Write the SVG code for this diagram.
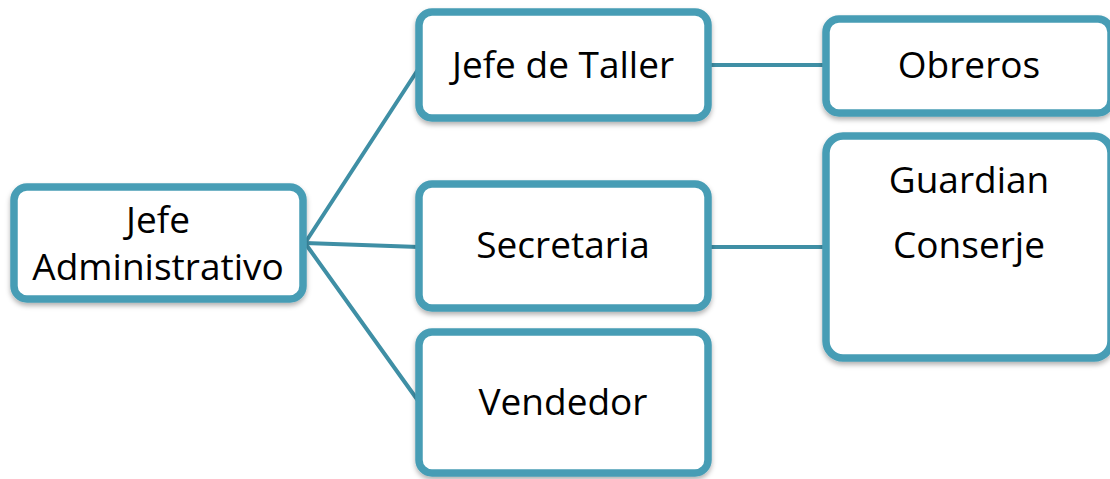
<svg xmlns="http://www.w3.org/2000/svg" width="1110" height="479" viewBox="0 0 1110 479">
<style>
.box{fill:#ffffff;stroke:#479DB5;stroke-width:7.5;filter:url(#sh)}
.lbl{font-family:"Open Sans","Liberation Sans",sans-serif;font-size:37px;fill:#000000;text-anchor:middle}
.con{stroke:#3F8FA5;stroke-width:4;fill:none;stroke-linecap:round}
</style>
<defs>
<filter id="sh" x="-10%" y="-10%" width="120%" height="130%">
<feDropShadow dx="0" dy="3" stdDeviation="2.5" flood-color="#000000" flood-opacity="0.3"/>
</filter>
</defs>
<rect width="1110" height="479" fill="#ffffff"/>
<g id="connectors">
<line class="con" x1="305" y1="243" x2="419" y2="68"/>
<line class="con" x1="305" y1="243" x2="419" y2="247"/>
<line class="con" x1="305" y1="243" x2="419" y2="402"/>
<line class="con" x1="708" y1="65" x2="826" y2="65"/>
<line class="con" x1="708" y1="247" x2="826" y2="247"/>
</g>
<g id="jefe-administrativo">
<rect class="box" x="14" y="187" width="289" height="112" rx="13"/>
<text class="lbl" x="158" y="233">Jefe</text>
<text class="lbl" x="158" y="280">Administrativo</text>
</g>
<g id="jefe-de-taller">
<rect class="box" x="419" y="12" width="289" height="106" rx="13"/>
<text class="lbl" x="563" y="78">Jefe de Taller</text>
</g>
<g id="secretaria">
<rect class="box" x="419" y="184" width="289" height="124" rx="13"/>
<text class="lbl" x="563" y="258">Secretaria</text>
</g>
<g id="vendedor">
<rect class="box" x="419" y="332" width="289" height="141" rx="13"/>
<text class="lbl" x="563" y="415">Vendedor</text>
</g>
<g id="obreros">
<rect class="box" x="826" y="19" width="285" height="94" rx="13"/>
<text class="lbl" x="969" y="78">Obreros</text>
</g>
<g id="guardian-conserje">
<rect class="box" x="826" y="136" width="285" height="222" rx="17"/>
<text class="lbl" x="969" y="193">Guardian</text>
<text class="lbl" x="969" y="258">Conserje</text>
</g>
</svg>
